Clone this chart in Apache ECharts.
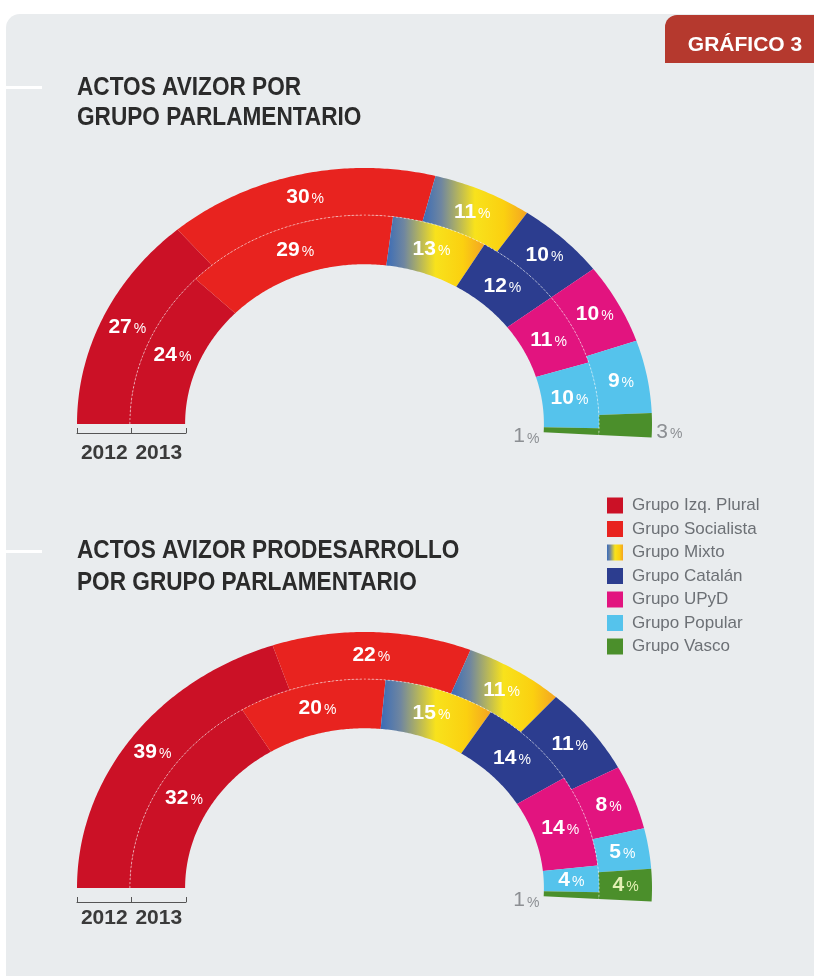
<!DOCTYPE html>
<html><head><meta charset="utf-8">
<script src="https://cdn.jsdelivr.net/npm/echarts@6/dist/echarts.min.js"></script>
<style>html,body{margin:0;padding:0;background:#fff}#c{width:814px;height:976px}</style>
</head><body><div id="c"></div>
<script>
// ---- data ----
const parties = ['Grupo Izq. Plural','Grupo Socialista','Grupo Mixto','Grupo Catalán','Grupo UPyD','Grupo Popular','Grupo Vasco'];
const years = ['2012','2013'];
const avizor2012 = [27,30,11,10,10,9,3];
const avizor2013 = [24,29,13,12,11,10,1];
const prodes2012 = [39,22,11,11,8,5,4];
const prodes2013 = [32,20,15,14,14,4,1];
const chartTitles = [['ACTOS AVIZOR POR','GRUPO PARLAMENTARIO'],['ACTOS AVIZOR PRODESARROLLO','POR GRUPO PARLAMENTARIO']];
const badge = 'GRÁFICO 3';

// ---- style ----
const mixtoGrad = new echarts.graphic.LinearGradient(0,0,1,0,[
  {offset:0,color:'#3a6cb8'},{offset:0.18,color:'#6f86a0'},{offset:0.5,color:'#f8e21c'},{offset:0.78,color:'#fbd010'},{offset:1,color:'#f4a423'}]);
const colors = ['#cb1126','#e8231f',mixtoGrad,'#2c3d8f','#e2147f','#55c3ec','#4b8f2b'];
const FONT = 'Liberation Sans, Arial, sans-serif';
const SPAN = 183 * Math.PI / 180;
const RI = 0.624, RM = 0.816;

function cumulative(vals){ const out=[]; let c=0; vals.forEach(v=>{out.push([c,c+v,v]); c+=v;}); return out; }

function renderer(pi){
  return function(params, api){
    const ring = api.value(0), s = api.value(1), e = api.value(2), v = api.value(3);
    const r0 = ring === 0 ? RM : RI, r1 = ring === 0 ? 1 : RM;
    const a0 = Math.PI - s/100*SPAN, a1 = Math.PI - e/100*SPAN;
    const n = Math.max(2, Math.ceil(Math.abs(a1-a0)/0.01));
    const pts = [];
    for (let i=0;i<=n;i++){ const a=a0+(a1-a0)*i/n; pts.push(api.coord([r1*Math.cos(a), r1*Math.sin(a)])); }
    for (let i=n;i>=0;i--){ const a=a0+(a1-a0)*i/n; pts.push(api.coord([r0*Math.cos(a), r0*Math.sin(a)])); }
    const am = (a0+a1)/2;
    let lp, align, numCol, weight='bold', dy=0, nSize=21;
    if (v <= 3) {
      const rl = ring === 0 ? 1.015 : RI - 0.015;
      lp = api.coord([rl*Math.cos(am), rl*Math.sin(am)]);
      align = ring === 0 ? 'left' : 'right';
      numCol = '#8c8f93'; weight='normal'; dy = 7; nSize = 21;
    } else {
      const rl = (r0+r1)/2;
      lp = api.coord([rl*Math.cos(am), rl*Math.sin(am)]);
      align = 'center';
      numCol = pi === 6 ? '#e3f0b4' : '#ffffff';
    }
    return {
      type:'group',
      children:[
        {type:'polygon', shape:{points:pts}, style:{fill: colors[pi]}},
        {type:'text', x: lp[0], y: lp[1]+dy, z2:100,
          style:{text:'{n|'+v+'}{p|%}', align: align, verticalAlign:'middle',
            rich:{n:{fontSize:nSize, fontWeight:weight, fill:numCol, fontFamily:FONT},
                  p:{fontSize:14, fill:numCol, fontFamily:FONT, padding:[4,0,0,2]}}}}
      ]
    };
  };
}

function boundary(params, api){
  const pts=[]; const n=300;
  for(let i=0;i<=n;i++){ const a=Math.PI - SPAN*i/n; pts.push(api.coord([RM*Math.cos(a), RM*Math.sin(a)])); }
  return {type:'polyline', z2:50, shape:{points:pts}, style:{stroke:'rgba(255,255,255,0.55)', lineWidth:1, lineDash:[2,2], fill:null}};
}

const charts = [[avizor2012, avizor2013],[prodes2012, prodes2013]];
const ringTops = [168, 632];
const axisTops = [421, 890];
const axisMargins = [10, 6];
const titleY = [[88,118],[551,583]];

const grid=[], xAxis=[], yAxis=[], series=[];
charts.forEach((ch, ci)=>{
  const gi = grid.length;
  grid.push({left:77, width:575, top:ringTops[ci], height:281.6});
  xAxis.push({gridIndex:gi, type:'value', min:-1, max:1, show:false});
  yAxis.push({gridIndex:gi, type:'value', min:-0.1, max:1, show:false});
  const c0 = cumulative(ch[0]), c1 = cumulative(ch[1]);
  parties.forEach((p, pi)=>{
    series.push({type:'custom', name:p, xAxisIndex:gi, yAxisIndex:gi, clip:false,
      itemStyle:{color:colors[pi]}, renderItem:renderer(pi),
      data:[[0, c0[pi][0], c0[pi][1], c0[pi][2]],[1, c1[pi][0], c1[pi][1], c1[pi][2]]]});
  });
  series.push({type:'custom', name:'limite'+ci, xAxisIndex:gi, yAxisIndex:gi, clip:false, silent:true,
    renderItem:boundary, data:[[0,0]]});
  const ga = grid.length;
  grid.push({left:77, width:109, top:axisTops[ci], height:12});
  xAxis.push({gridIndex:ga, type:'category', data:years, boundaryGap:true,
    axisLine:{lineStyle:{color:'#555', width:1}},
    axisTick:{show:true, inside:true, length:5, interval:0, lineStyle:{color:'#555'}},
    axisLabel:{interval:0, hideOverlap:false, fontSize:21, fontWeight:'bold', color:'#3a3a3a', fontFamily:FONT, margin:axisMargins[ci]}});
  yAxis.push({gridIndex:ga, type:'value', show:false});
});

const titleGraphics = [];
chartTitles.forEach((lines, ci)=>{
  lines.forEach((ln, li)=>{
    titleGraphics.push({type:'text', x:77, y:titleY[ci][li], scaleX:0.87,
      style:{text:ln, fill:'#2b2b2b', font:'bold 26px Liberation Sans, Arial, sans-serif', align:'left', verticalAlign:'middle'}});
  });
});

const option = {
  backgroundColor:'#ffffff',
  animation:false,
  legend:{orient:'vertical', left:607, top:497, padding:0, itemWidth:16, itemHeight:16, itemGap:6.5,
    icon:'rect', data:parties,
    textStyle:{fontSize:17, color:'#6c7075', fontFamily:FONT, padding:[0,0,0,4]}},
  graphic:[
    {type:'rect', z:-10, shape:{x:6, y:14, width:830, height:990, r:[14,0,0,0]}, style:{fill:'#e9ecee'}},
    {type:'rect', z:-5, shape:{x:6, y:86, width:36, height:3}, style:{fill:'#ffffff'}},
    {type:'rect', z:-5, shape:{x:6, y:550, width:36, height:3}, style:{fill:'#ffffff'}},
    {type:'rect', shape:{x:665, y:15, width:170, height:48, r:[12,0,0,0]}, style:{fill:'#b5392e'}},
    {type:'text', x:745, y:45, style:{text:badge, fill:'#ffffff', font:'bold 21px Liberation Sans, Arial, sans-serif', align:'center', verticalAlign:'middle'}}
  ].concat(titleGraphics),
  grid, xAxis, yAxis, series
};
const chart = echarts.init(document.getElementById('c'), null, {renderer:'canvas'});
chart.setOption(option);
</script></body></html>
